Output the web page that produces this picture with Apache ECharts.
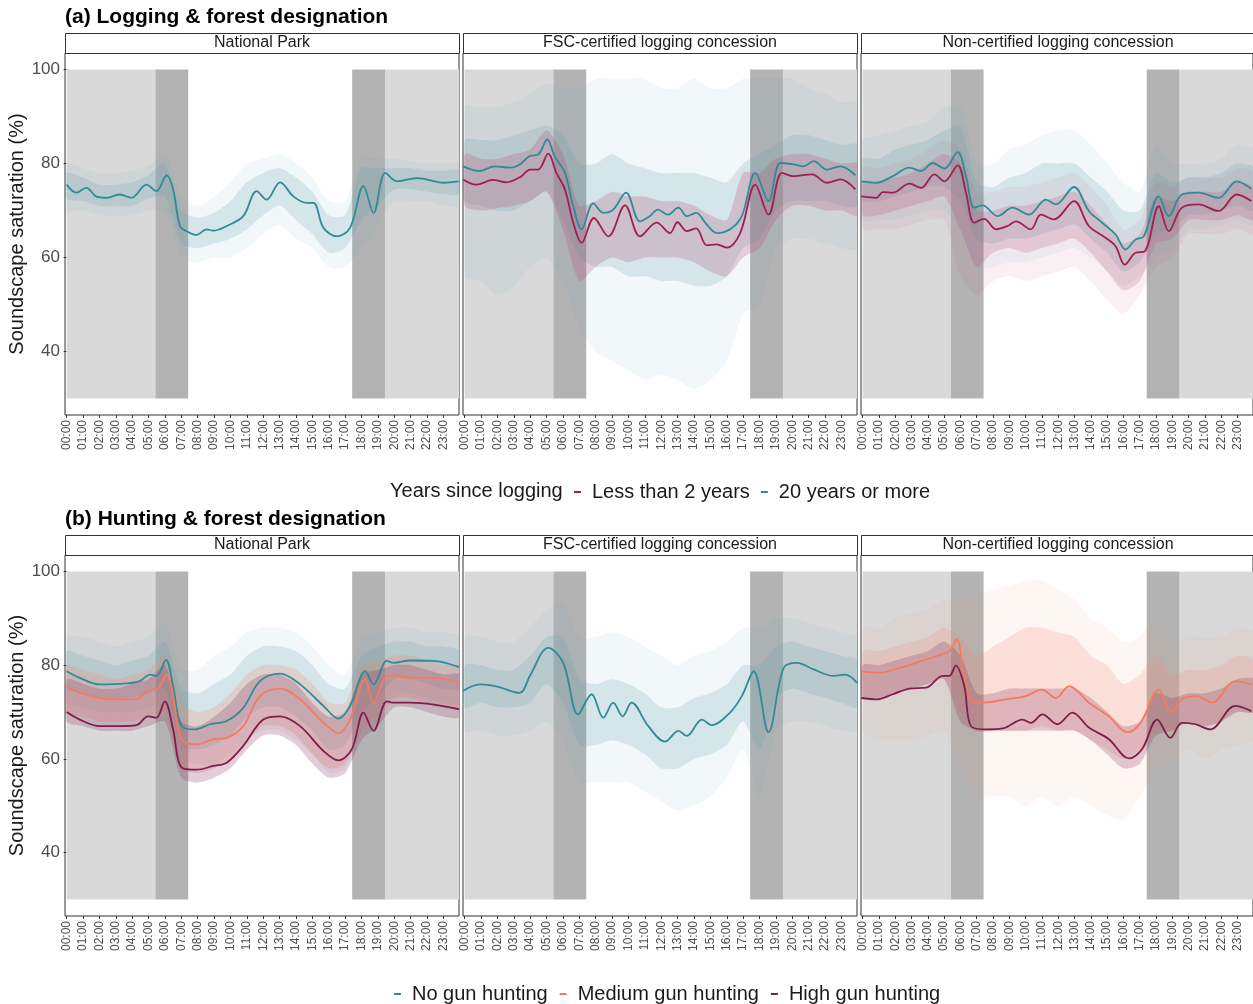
<!DOCTYPE html>
<html>
<head>
<meta charset="utf-8">
<script src="https://cdn.jsdelivr.net/npm/echarts@6/dist/echarts.min.js"></script>
<style>
  html, body { margin: 0; padding: 0; background: #ffffff; }
  #chart { width: 1253px; height: 1004px; }
</style>
</head>
<body>
<div id="chart"></div>
<script>
// ---------- axis ticks ----------
const hourTicks = [0,1,2,3,4,5,6,7,8,9,10,11,12,13,14,15,16,17,18,19,20,21,22,23];
const hourLabels = ['00:00','01:00','02:00','03:00','04:00','05:00','06:00','07:00','08:00','09:00','10:00','11:00',
                    '12:00','13:00','14:00','15:00','16:00','17:00','18:00','19:00','20:00','21:00','22:00','23:00'];
const yTicks = [40, 60, 80, 100];

// ---------- day periods (hours) ----------
const nightSpans = [[0, 5.42], [19.43, 24]];
const twilightSpans = [[5.42, 7.42], [17.43, 19.43]];
const shadeRange = [30, 100];

const facetNames = ['National Park', 'FSC-certified logging concession', 'Non-certified logging concession'];

// ---------- (a) logging: smoothed saturation [hour, %] ----------
const a1Old = [[0,75.5],[0.59,73.8],[1.2,74.8],[1.8,73.0],[2.43,72.7],[3.24,73.4],[3.96,72.7],[4.87,75.5],[5.48,74.1],
  [6.1,77.5],[6.5,74.5],[6.91,66.7],[7.32,65.6],[7.93,64.8],[8.54,66.0],[8.95,65.7],[9.77,66.7],[10.78,68.8],[11.6,74.1],
  [12.2,72.3],[13.03,76.0],[13.84,73.0],[14.66,71.6],[15.07,71.6],[15.68,66.3],[16.5,64.5],[17.3,66.3],[18.12,75.2],
  [18.73,69.5],[19.45,78.0],[20.16,76.2],[21.39,76.9],[23.02,75.9],[23.93,76.2]];

const a2Old = [[-0.1,79.4],[0.92,78.4],[1.83,79.4],[2.75,79.1],[3.36,79.8],[3.98,81.6],[4.49,81.9],[5.04,85.1],[5.5,81.5],
  [6.12,78.0],[6.63,70.9],[7.14,66.0],[7.85,71.5],[8.46,69.5],[9.07,70.2],[9.85,73.8],[10.7,67.7],[11.3,68.8],[11.8,70.2],
  [12.4,69.1],[13.05,70.6],[13.56,68.8],[14.13,69.5],[14.78,67.0],[15.39,65.2],[16.2,66.0],[16.92,68.8],[17.74,78.0],
  [18.55,72.0],[19.27,80.1],[20.08,79.8],[20.69,79.4],[21.3,80.5],[22.12,78.7],[22.94,79.4],[23.85,77.5]];
const a2New = [[-0.1,76.6],[0.71,75.5],[1.73,76.5],[2.55,76.0],[3.47,77.3],[3.98,78.7],[4.49,78.7],[5.1,82.1],[5.6,78.0],
  [6.12,74.5],[6.63,67.4],[7.14,63.1],[7.89,68.4],[8.77,64.5],[9.79,71.1],[10.7,64.5],[11.72,67.4],[12.54,65.2],[12.99,67.5],
  [13.56,65.6],[14.13,66.2],[14.78,62.6],[15.39,62.8],[16.0,62.1],[16.82,65.2],[17.74,75.5],[18.55,69.1],[19.37,78.0],
  [20.08,77.3],[21.2,77.7],[22.12,75.9],[22.94,76.6],[23.85,74.5]];

const a3Old = [[-0.08,76.2],[0.84,75.9],[1.86,77.3],[2.87,79.1],[3.59,78.4],[4.3,80.1],[5.02,78.9],[5.83,82.4],[6.34,77.3],
  [6.85,70.6],[7.36,71.1],[8.28,68.8],[9.19,70.6],[10.21,69.1],[11.24,72.3],[11.85,71.3],[12.97,75.0],[13.88,69.9],
  [14.7,67.4],[15.52,64.9],[16.13,61.7],[16.74,63.8],[17.25,64.5],[18.17,73.0],[18.78,68.8],[19.59,73.4],[20.61,73.8],
  [21.83,72.7],[22.95,76.2],[23.85,74.6]];
const a3New = [[-0.08,73.0],[0.84,72.7],[1.24,73.9],[1.86,73.8],[2.87,75.7],[3.59,74.8],[4.4,77.7],[5.02,76.2],[5.83,79.6],
  [6.34,73.8],[6.85,67.4],[7.46,68.2],[8.18,66.0],[8.89,66.7],[9.4,67.7],[10.32,66.0],[10.93,69.1],[11.74,68.1],[12.97,72.0],
  [13.88,66.7],[14.9,64.2],[15.52,62.4],[16.08,58.5],[16.74,61.0],[17.31,61.3],[18.17,70.9],[18.78,65.6],[19.59,70.6],
  [20.61,71.3],[21.83,69.9],[22.95,73.4],[23.85,72.0]];

// ---------- (a) spread of per-minute values [hour, low, high] ----------
const a1OldBars = [[0,70,80],[1,70,79],[2,69,78],[3,69,78],[4,69,78.5],[5,70,79.5],[6,70,82],[7,60,73],[8,59,71],[9,60,73],
  [10,60,76],[11,62,80],[12,65,81],[13,67,82],[14,64,80],[15,62,77],[16,58,72],[17,58,72],[18,62,81],[19,67,81],[20,72,81],
  [21,72,80.5],[22,72,80],[23,71,80],[24,71,80]];
const a1OldPts = [[0,72.5,78],[1,72,77],[2,71,75.5],[3,71,75.5],[4,71,76],[5,72.5,77.5],[6,73,80],[7,63,70],[8,62,68.5],
  [9,63,69.5],[10,64,72],[11,66,76],[12,69,78],[13,71,79],[14,68,77],[15,65,74],[16,61,69],[17,62,69],[18,68,79],[19,71,79],
  [20,74.5,79],[21,74.5,79],[22,74,78.5],[23,73.5,78.5],[24,73.5,78.5]];

const a2OldBars = [[0,56,92],[1,55,92],[2,52,92],[3,54,93],[4,58,95],[5,60,97],[6,55,96],[7,45,96],[8,40,98],[9,38,98],
  [10,36,98],[11,34,98],[12,35,96],[13,34,96],[14,32,98],[15,34,96],[16,38,96],[17,48,98],[18,50,98],[19,62,98],[20,64,98],
  [21,64,96],[22,63,95],[23,62,93],[24,62,93]];
const a2OldPts = [[0,72,85],[1,71,85],[2,70,85],[3,70,86],[4,72,87],[5,74,88],[6,68,86],[7,60,80],[8,58,80],[9,58,82],
  [10,56,80],[11,56,79],[12,55,78],[13,55,78],[14,54,78],[15,54,77],[16,56,76],[17,62,80],[18,64,82],[19,70,84],[20,72,86],
  [21,72,86],[22,72,85],[23,71,84],[24,71,84]];
const a2NewPts = [[0,71,82],[1,70,81],[2,70.5,81],[3,71,82],[4,72,83],[5,74,87],[6,66,82],[7,55,71],[8,58,72],[9,60,74],
  [10,59,73],[11,60,73],[12,60,72],[13,60,72],[14,59,71],[15,57,69],[16,56,68],[17,60,78],[18,62,78],[19,68,81],[20,71,82],
  [21,71,82],[22,70,81],[23,70,80],[24,69,80]];

const a3OldBars = [[0,68,85],[1,68,86],[2,68,87],[3,69,88],[4,70,89],[5,70,92],[6,66,92],[7,58,80],[8,58,80],[9,59,83],
  [10,59,84],[11,60,86],[12,61,87],[13,62,87],[14,60,84],[15,57,80],[16,54,76],[17,56,74],[18,60,84],[19,62,80],[20,66,80],
  [21,66,80],[22,67,81],[23,68,84],[24,67,83]];
const a3OldPts = [[0,72,81],[1,72,81],[2,73,83],[3,74,84],[4,75,85],[5,75,87],[6,72,88],[7,64,76],[8,63,75],[9,64,77],
  [10,64,78],[11,65,80],[12,66,80],[13,67,80],[14,64,77],[15,61,74],[16,57,70],[17,59,70],[18,65,78],[19,66,76],[20,69,77],
  [21,69,77],[22,70,78],[23,71,80],[24,70,79]];
const a3NewBars = [[0,66,79],[1,66,79],[2,66,80],[3,67,81],[4,68,83],[5,68,85],[6,56,83],[7,52,74],[8,55,74],[9,56,75],
  [10,55,75],[11,56,76],[12,57,77],[13,58,78],[14,55,75],[15,51,71],[16,48,66],[17,52,68],[18,58,76],[19,60,75],[20,65,77],
  [21,65,77],[22,65,77],[23,66,79],[24,65,78]];
const a3NewPts = [[0,69,76],[1,69,76],[2,70,77],[3,71,78],[4,72,80],[5,73,82],[6,66,80],[7,58,70],[8,61,70],[9,62,71],
  [10,61,71],[11,62,72],[12,63,73],[13,64,74],[14,61,71],[15,57,67],[16,53,63],[17,55,65],[18,63,73],[19,64,72],[20,68,74],
  [21,68,74],[22,68,74],[23,69,76],[24,68,75]];

// ---------- (b) hunting: smoothed saturation [hour, %] ----------
const b1None = [[0,78.7],[0.8,77.3],[2.02,75.9],[3.65,76.1],[4.46,76.6],[5.08,78.0],[5.48,77.7],[6.06,81.1],[6.5,75.5],
  [7.01,67.0],[7.83,66.3],[8.75,67.4],[9.77,68.1],[10.78,70.9],[11.8,76.6],[13.03,78.2],[14.25,75.9],[15.68,71.3],
  [16.59,68.6],[17.3,71.3],[18.23,78.7],[18.73,75.9],[19.55,80.9],[19.96,80.5],[20.98,81.0],[22.4,80.9],[23.94,79.6]];
const b1Medium = [[0,75.5],[0.8,74.1],[2.02,73.0],[3.24,72.7],[4.26,72.7],[5.08,74.8],[5.48,74.8],[6.1,78.0],[6.5,73.4],
  [7.01,64.2],[7.93,63.1],[8.95,64.2],[9.77,64.5],[10.78,67.0],[11.8,73.4],[13.03,75.0],[14.25,72.7],[15.68,67.7],
  [16.59,65.5],[17.3,68.4],[18.23,77.0],[18.73,72.0],[19.55,77.7],[19.96,77.8],[20.98,77.3],[22.4,77.3],[23.94,76.2]];
const b1High = [[0,70.0],[0.8,68.4],[2.02,67.0],[3.24,67.0],[4.26,67.2],[4.97,69.1],[5.48,68.8],[5.99,72.3],[6.5,66.3],
  [7.01,58.2],[7.93,57.7],[8.95,58.5],[9.77,59.2],[10.78,62.8],[12.0,68.4],[13.03,69.1],[14.25,67.0],[15.68,61.7],
  [16.59,59.7],[17.41,62.1],[18.12,69.9],[18.73,66.0],[19.55,72.3],[19.96,72.0],[20.98,72.0],[22.4,71.6],[23.94,70.6]];

const b2None = [[-0.1,74.5],[0.92,75.9],[1.94,75.5],[3.36,74.1],[3.98,77.7],[5.1,83.7],[6.02,80.5],[6.93,69.5],[7.75,73.8],
  [8.46,68.8],[9.07,72.0],[9.64,69.1],[10.19,72.0],[11.21,67.0],[12.23,63.7],[13.05,66.0],[13.56,64.9],[14.48,68.4],
  [15.09,67.2],[16.2,69.9],[16.92,73.4],[17.64,78.7],[18.55,65.7],[19.47,79.4],[20.29,80.5],[21.3,79.1],[22.53,77.7],
  [23.24,78.0],[23.96,76.2]];

const b3Medium = [[-0.08,78.7],[1.04,78.4],[2.26,79.4],[3.28,80.5],[4.5,81.9],[5.32,83.0],[5.77,85.5],[6.24,77.7],
  [6.85,72.0],[7.77,72.1],[8.79,72.7],[10.01,73.4],[10.99,74.8],[11.85,73.0],[12.67,75.5],[13.88,72.0],[15.11,69.1],
  [16.23,65.7],[17.05,67.7],[18.17,74.8],[18.94,70.0],[19.59,72.8],[20.51,73.4],[21.43,72.0],[22.85,76.6],[23.85,75.9]];
const b3High = [[-0.08,73.0],[0.84,72.7],[1.86,73.8],[2.87,75.0],[3.9,75.2],[4.92,77.7],[5.32,77.7],[5.71,79.9],[6.24,75.5],
  [6.65,67.0],[7.57,66.3],[8.59,66.5],[9.81,68.4],[10.32,67.7],[11.03,69.5],[11.95,67.4],[12.87,69.9],[13.88,66.7],
  [15.11,64.2],[16.34,60.1],[17.15,62.1],[18.07,68.4],[18.88,64.5],[19.59,67.7],[20.41,67.4],[21.33,66.3],[22.85,71.3],
  [23.85,70.2]];

// ---------- (b) spread of per-minute values [hour, low, high] ----------
const b1NoneBars = [[0,72,86],[1,71,86],[2,70,85],[3,70,84],[4,70,85],[5,71,86],[6,72,89],[7,60,79],[8,59,79],[9,59,82],
  [10,61,84],[11,64,87],[12,66,88],[13,66,88],[14,64,87],[15,61,84],[16,57,80],[17,58,78],[18,66,86],[19,70,87],[20,74,88],
  [21,74,88],[22,73,87],[23,72,87],[24,72,86]];
const b1NonePts = [[0,75,83],[1,74,82],[2,73,81],[3,73,80],[4,73,81],[5,74,82],[6,75,85],[7,63,75],[8,62,74],[9,63,76],
  [10,65,78],[11,69,82],[12,71,84],[13,71,84],[14,69,83],[15,66,80],[16,62,76],[17,63,75],[18,70,82],[19,73,84],[20,77,85],
  [21,77,85],[22,76,84],[23,75,84],[24,75,83]];
const b1MediumPts = [[0,70,80],[1,69,79],[2,68,78],[3,68,77],[4,68,78],[5,69,79],[6,70,82],[7,58,72],[8,57,70],[9,58,71],
  [10,60,74],[11,64,78],[12,67,80],[13,67,80],[14,65,79],[15,61,76],[16,58,72],[17,59,72],[18,66,80],[19,69,81],[20,73,82],
  [21,73,82],[22,72,81],[23,71,80],[24,71,80]];
const b1HighPts = [[0,68,77],[1,67,76],[2,66,75],[3,66,75],[4,66,76],[5,67,77],[6,68,80],[7,56,68],[8,55,67],[9,56,69],
  [10,58,72],[11,62,76],[12,65,78],[13,65,78],[14,63,76],[15,59,72],[16,56,69],[17,57,70],[18,64,78],[19,67,79],[20,71,80],
  [21,71,80],[22,70,79],[23,69,78],[24,69,78]];

const b2NoneBars = [[0,66,86],[1,66,86],[2,65,85],[3,65,85],[4,66,88],[5,68,92],[6,64,93],[7,55,86],[8,55,86],[9,55,87],
  [10,55,86],[11,53,84],[12,51,82],[13,49,80],[14,50,82],[15,52,83],[16,56,85],[17,62,88],[18,52,88],[19,66,90],[20,68,90],
  [21,68,89],[22,67,88],[23,66,87],[24,66,86]];
const b2NonePts = [[0,71,80],[1,72,80],[2,71,79],[3,71,79],[4,72,82],[5,76,86],[6,72,86],[7,63,77],[8,63,76],[9,64,77],
  [10,63,76],[11,61,74],[12,58,71],[13,58,71],[14,60,73],[15,61,74],[16,63,76],[17,68,80],[18,62,80],[19,73,84],[20,75,85],
  [21,74,84],[22,73,83],[23,72,82],[24,71,81]];

const b3MediumBars = [[0,66,88],[1,64,88],[2,64,90],[3,64,91],[4,65,92],[5,66,94],[6,58,94],[7,52,95],[8,52,96],[9,52,97],
  [10,50,98],[11,52,98],[12,50,96],[13,52,94],[14,50,90],[15,48,88],[16,47,85],[17,52,86],[18,58,90],[19,60,85],[20,62,86],
  [21,60,86],[22,62,86],[23,63,88],[24,64,87]];
const b3MediumPts = [[0,73,83],[1,73,83],[2,74,84],[3,75,85],[4,76,86],[5,77,88],[6,70,86],[7,66,82],[8,66,84],[9,66,86],
  [10,66,88],[11,67,88],[12,66,87],[13,66,86],[14,64,82],[15,62,80],[16,60,76],[17,62,78],[18,66,82],[19,66,78],[20,68,79],
  [21,67,79],[22,68,80],[23,70,82],[24,70,81]];
const b3HighPts = [[0,73,80],[1,73,80],[2,74,81],[3,75,82],[4,76,83],[5,77,85],[6,68,82],[7,66,74],[8,66,74],[9,66,75],
  [10,66,75],[11,66,75],[12,66,75],[13,66,75],[14,64,73],[15,61,70],[16,58,67],[17,59,68],[18,65,74],[19,66,73],[20,68,74],
  [21,67,74],[22,68,75],[23,70,77],[24,70,77]];

// ---------- styling ----------
const FONT = 'Liberation Sans, Arial, sans-serif';
const COL = {
  teal:   { line: '#2f8b99', band: '#5fa2ae' },
  crimson:{ line: '#a11f4f', band: '#b9466f' },
  salmon: { line: '#f57a5f', band: '#f7866c' },
  maroon: { line: '#7f1d4c', band: '#84305a' }
};
const SHADE_LIGHT = '#d9d9d9';
const SHADE_DARK = '#b3b3b3';

const panelLefts = [65, 463, 861];
const panelTops = [53, 555];
const panelWidth = 394;
const panelHeights = [362, 361];

// one entry per facet: groups drawn in that facet
const panels = [
  { row: 0, col: 0, groups: [
    { name: '20 years or more', c: COL.teal, line: a1Old, bars: a1OldBars, pts: a1OldPts } ] },
  { row: 0, col: 1, groups: [
    { name: '20 years or more', c: COL.teal, line: a2Old, bars: a2OldBars, pts: a2OldPts },
    { name: 'Less than 2 years', c: COL.crimson, line: a2New, pts: a2NewPts } ] },
  { row: 0, col: 2, groups: [
    { name: '20 years or more', c: COL.teal, line: a3Old, bars: a3OldBars, pts: a3OldPts },
    { name: 'Less than 2 years', c: COL.crimson, line: a3New, bars: a3NewBars, pts: a3NewPts } ] },
  { row: 1, col: 0, groups: [
    { name: 'No gun hunting', c: COL.teal, line: b1None, bars: b1NoneBars, pts: b1NonePts },
    { name: 'Medium gun hunting', c: COL.salmon, line: b1Medium, pts: b1MediumPts },
    { name: 'High gun hunting', c: COL.maroon, line: b1High, pts: b1HighPts } ] },
  { row: 1, col: 1, groups: [
    { name: 'No gun hunting', c: COL.teal, line: b2None, bars: b2NoneBars, pts: b2NonePts } ] },
  { row: 1, col: 2, groups: [
    { name: 'Medium gun hunting', c: COL.salmon, line: b3Medium, bars: b3MediumBars, pts: b3MediumPts },
    { name: 'High gun hunting', c: COL.maroon, line: b3High, pts: b3HighPts } ] }
];

// background rectangles for night / twilight
function shadeSeries(gi, spans, color, z) {
  return {
    type: 'custom', xAxisIndex: gi, yAxisIndex: gi, clip: true, silent: true, z: z,
    data: spans,
    renderItem: function (params, api) {
      const p0 = api.coord([api.value(0), shadeRange[1]]);
      const p1 = api.coord([api.value(1), shadeRange[0]]);
      return { type: 'rect', shape: { x: p0[0], y: p0[1], width: p1[0] - p0[0], height: p1[1] - p0[1] },
               style: { fill: color } };
    }
  };
}

// translucent envelope between low and high values
function bandSeries(gi, data, color, opacity) {
  return {
    type: 'custom', xAxisIndex: gi, yAxisIndex: gi, clip: true, silent: true, z: 3,
    data: data, encode: { x: 0, y: [1, 2] },
    renderItem: function (params, api) {
      if (params.dataIndex !== 0) return null;
      const upper = data.map(function (d) { return api.coord([d[0], d[2]]); });
      const lower = data.map(function (d) { return api.coord([d[0], d[1]]); }).reverse();
      return { type: 'polygon', shape: { points: upper.concat(lower), smooth: 0.25 },
               style: { fill: color, opacity: opacity } };
    }
  };
}

const grids = [], xAxes = [], yAxes = [], series = [];
panels.forEach(function (p, gi) {
  grids.push({ left: panelLefts[p.col], top: panelTops[p.row], width: panelWidth, height: panelHeights[p.row],
               show: true, borderColor: '#333333', borderWidth: 1, backgroundColor: 'transparent' });
  xAxes.push({
    type: 'value', gridIndex: gi, min: -0.1, max: 23.95,
    axisLine: { show: false }, splitLine: { show: false },
    axisTick: { show: true, customValues: hourTicks, length: 3, lineStyle: { color: '#333333' } },
    axisLabel: { show: true, customValues: hourTicks, rotate: 90, margin: 5, fontSize: 12, color: '#4d4d4d',
                 fontFamily: FONT, formatter: function (v) { return hourLabels[Math.round(v)]; } }
  });
  const first = p.col === 0;
  yAxes.push({
    type: 'value', gridIndex: gi, min: 26.5, max: 103.5,
    axisLine: { show: false }, splitLine: { show: false },
    axisTick: { show: first, customValues: yTicks, length: 3, lineStyle: { color: '#333333' } },
    axisLabel: { show: first, customValues: yTicks, fontSize: 17, color: '#4d4d4d', fontFamily: FONT, margin: 5 },
    name: first ? 'Soundscape saturation (%)' : '', nameLocation: 'middle', nameGap: 36, nameRotate: 90,
    nameTextStyle: { fontSize: 20, color: '#1a1a1a', fontFamily: FONT }
  });
  series.push(shadeSeries(gi, nightSpans, SHADE_LIGHT, 1));
  series.push(shadeSeries(gi, twilightSpans, SHADE_DARK, 1));
  p.groups.forEach(function (g) {
    if (g.bars) series.push(bandSeries(gi, g.bars, g.c.band, 0.08));
    series.push(bandSeries(gi, g.pts, g.c.band, g.bars ? 0.2 : 0.24));
  });
  p.groups.forEach(function (g) {
    series.push({
      type: 'line', name: g.name, xAxisIndex: gi, yAxisIndex: gi, data: g.line, smooth: 0.35,
      showSymbol: false, symbol: 'none', silent: true, z: 5,
      lineStyle: { width: 1.8, color: g.c.line }, itemStyle: { color: g.c.line }
    });
  });
});

// facet strips and headings
const graphics = [];
panels.forEach(function (p) {
  graphics.push({
    type: 'rect', left: panelLefts[p.col], top: panelTops[p.row] - 20, z: 10,
    shape: { width: panelWidth, height: 20 }, style: { fill: '#ffffff', stroke: '#333333', lineWidth: 1 }
  });
  graphics.push({
    type: 'text', x: panelLefts[p.col] + panelWidth / 2, y: panelTops[p.row] - 10, z: 11,
    style: { text: facetNames[p.col], font: '16px ' + FONT, fill: '#1a1a1a', textAlign: 'center', textVerticalAlign: 'middle' }
  });
});
graphics.push({ type: 'text', x: 65, y: 17, z: 11,
  style: { text: '(a) Logging & forest designation', font: 'bold 21px ' + FONT, fill: '#000000', textVerticalAlign: 'middle' } });
graphics.push({ type: 'text', x: 65, y: 519, z: 11,
  style: { text: '(b) Hunting & forest designation', font: 'bold 21px ' + FONT, fill: '#000000', textVerticalAlign: 'middle' } });
graphics.push({ type: 'text', x: 390, y: 491, z: 11,
  style: { text: 'Years since logging', font: '20px ' + FONT, fill: '#1a1a1a', textVerticalAlign: 'middle' } });

const legendBase = {
  orient: 'horizontal', icon: 'rect', itemWidth: 7, itemHeight: 2, selectedMode: false,
  textStyle: { fontSize: 20, color: '#1a1a1a', fontFamily: FONT, padding: [0, 0, 0, 6] }
};

const chart = echarts.init(document.getElementById('chart'), null, { renderer: 'canvas' });
chart.setOption({
  animation: false,
  backgroundColor: '#ffffff',
  grid: grids,
  xAxis: xAxes,
  yAxis: yAxes,
  legend: [
    Object.assign({}, legendBase, { data: ['Less than 2 years', '20 years or more'], left: 569, top: 477, itemGap: 11 }),
    Object.assign({}, legendBase, { data: ['No gun hunting', 'Medium gun hunting', 'High gun hunting'], left: 389, top: 979, itemGap: 12 })
  ],
  graphic: graphics,
  series: series
});
</script>
</body>
</html>
